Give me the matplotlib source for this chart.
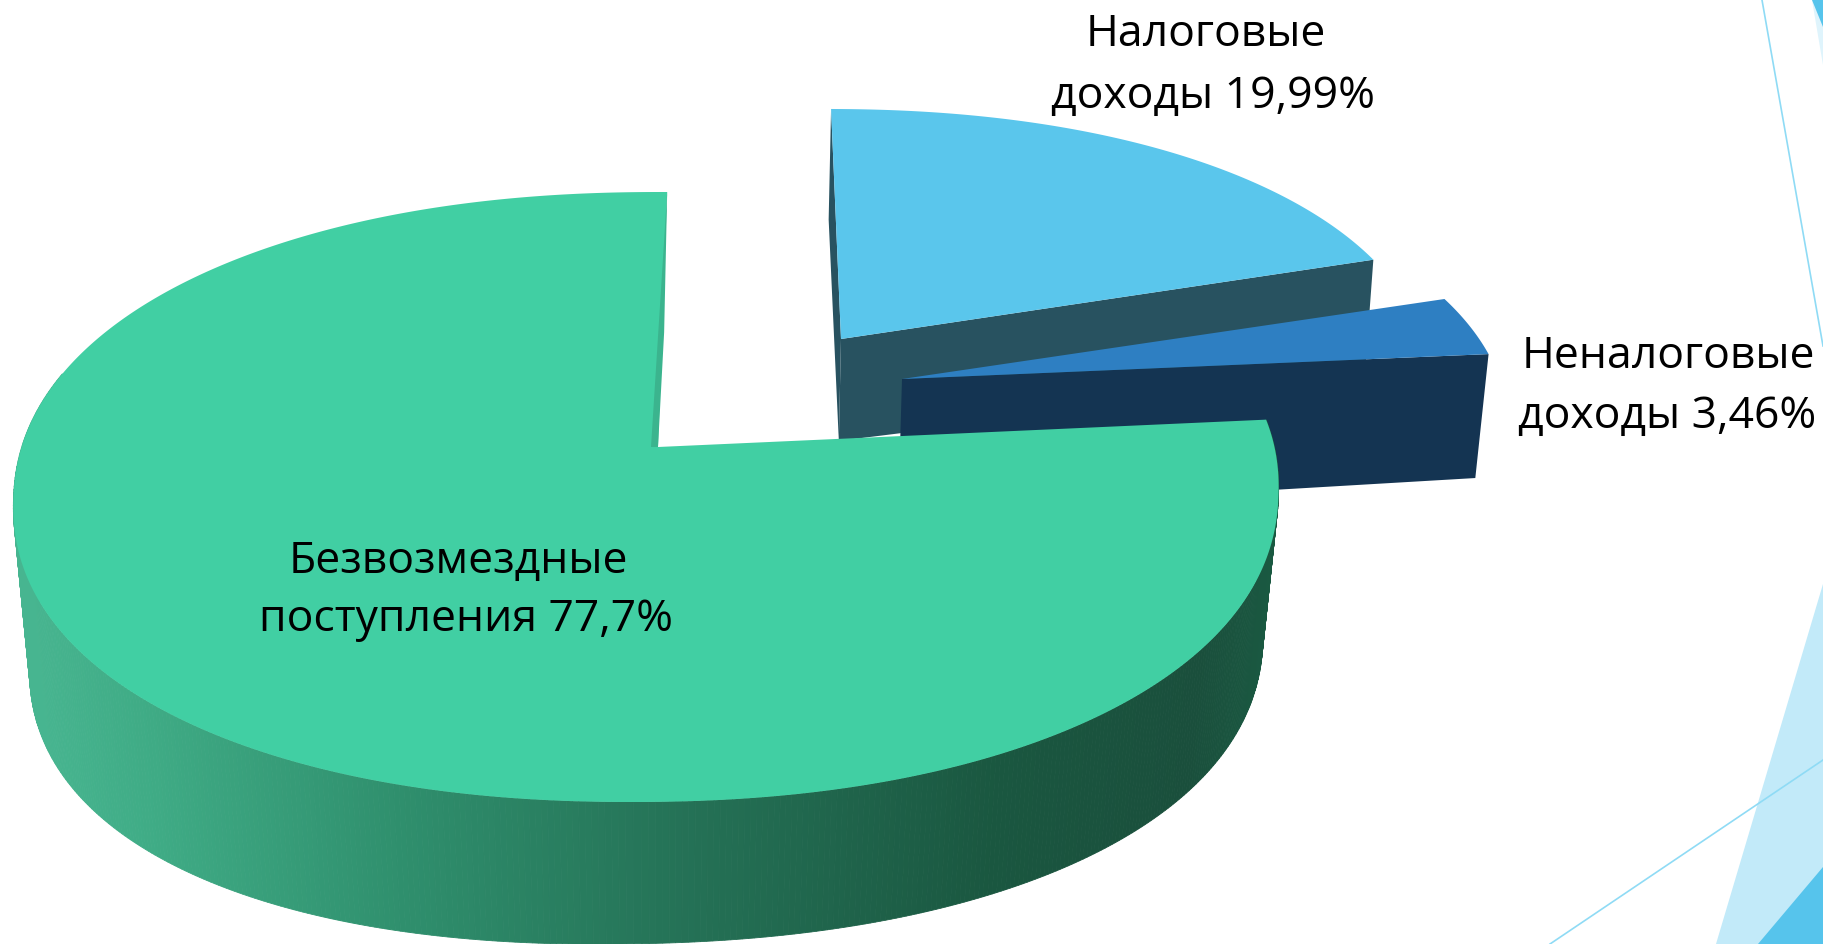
import numpy as np
import matplotlib
matplotlib.use("Agg")
import matplotlib.pyplot as plt
from matplotlib.patches import Polygon
from matplotlib.colors import to_rgb

# ---- data ----
categories = ["Безвозмездные поступления", "Налоговые доходы", "Неналоговые доходы"]
shares = [77.7, 19.99, 3.46]
label_lines = [["Безвозмездные", "поступления 77,7%"],
               ["Налоговые", "доходы 19,99%"],
               ["Неналоговые", "доходы 3,46%"]]

# ---- style ----
W, H_PX = 1823, 944
TOP_COLORS = ["#41CFA3", "#5AC6EC", "#2E7FC2"]
WALL_COLORS = ["#3BB48E", "#285260", "#143452"]
GRAD_X = [30, 150, 400, 700, 1000, 1200, 1290]
GRAD_C = ["#47b590", "#3fab85", "#2f8f6d", "#247055", "#1a5740", "#1a4f3c", "#1a5a42"]
PIE_CENTER = (646.0, 497.0)
PIE_A, PIE_B = 632.5, 305.0
PIE_SHEAR_X, PIE_SHEAR_Y = 0.035, 0.002
PIE_ROUND = 0.93
PIE_APEX = (658.0, 447.0)
PERSP_C0, PERSP_C1 = -0.7, 7.2
EXPLODE_PX = [(0, 0), (183, -108), (244, -68)]
# per-slice linear map of the exploded slice: (sx, k, sy)
SLICE_MAP = [(1.0, 0.0, 1.0), (0.945, 0.073, 0.902), (0.97, 0.12, 0.91)]
DEPTH_X = [14, 622, 1279]
DEPTH_Y = [163, 142, 144]
DEPTH0 = [None, 80, 147]
DEPTH_SLOPE = [0, -0.026, 0.0155]
TAPER = [0.025, 0.012, 0.016]
LABEL_POS = [[(458, 562), (466, 620)], [(1206, 35), (1213, 97)], [(1668, 357), (1667, 417)]]
FONT = "Open Sans"
FONTSIZE = 32

green_depth = np.polyfit(DEPTH_X, DEPTH_Y, 2)


def rim_xy(angles):
    """Pixel position of the pie rim for pie angles in degrees."""
    t = np.radians(angles)
    phi = t + np.radians(PERSP_C0 + PERSP_C1 * np.cos(t))
    c, s = np.cos(phi), np.sin(phi)
    X = PIE_A * np.sign(c) * np.abs(c) ** PIE_ROUND
    Y = -PIE_B * np.sign(s) * np.abs(s) ** PIE_ROUND
    return np.c_[PIE_CENTER[0] + X - PIE_SHEAR_X * Y, PIE_CENTER[1] + Y - PIE_SHEAR_Y * X]


def slice_xy(i, angles):
    """Apex followed by the rim for slice i."""
    c = np.array(PIE_APEX)
    rel = rim_xy(angles) - c
    sx, k, sy = SLICE_MAP[i]
    rel = np.c_[sx * rel[:, 0] + k * rel[:, 1], sy * rel[:, 1]]
    return np.vstack([c, c + rel]) + np.array(EXPLODE_PX[i])


def down(i, p):
    p = np.atleast_2d(p)
    if i == 0:
        d = np.polyval(green_depth, p[:, 0])
    else:
        d = DEPTH0[i] - DEPTH_SLOPE[i] * p[:, 0]
    return np.c_[p[:, 0] + (660 - p[:, 0]) * TAPER[i], p[:, 1] + d]


# slice angles from the values (green runs counter-clockwise from the top)
total = sum(shares)
spans = [360 * s / total for s in shares]
start = 90.0
ang_green = np.linspace(start, start + spans[0], 600)
ang_blue = np.linspace(start, start - spans[1], 160)
ang_navy = np.linspace(start - spans[1], start - spans[1] - spans[2], 40)

fig = plt.figure(figsize=(W / 100, H_PX / 100), dpi=100, facecolor="white")
ax = fig.add_axes([0, 0, 1, 1])
ax.set_xlim(0, W)
ax.set_ylim(H_PX, 0)
ax.axis("off")

# slide decoration
deco = "#C2EAF9"
ax.add_patch(Polygon([(1716, 944), (1823, 584), (1823, 944)], fc=deco, ec="none", zorder=1))
ax.add_patch(Polygon([(1758, 944), (1823, 867), (1823, 944)], fc="#56C4EC", ec="none", zorder=1.1))
ax.add_patch(Polygon([(1812, 0), (1823, 65), (1823, 0)], fc="#DFF4FC", ec="none", zorder=1))
ax.add_patch(Polygon([(1812, 0), (1823, 27), (1823, 0)], fc="#56C4EC", ec="none", zorder=1.1))
ax.plot([1762, 1823], [0, 346], color="#8FDBF5", lw=1.2, zorder=1.2)
ax.plot([1550, 1823], [944, 760], color="#8FDBF5", lw=1.2, zorder=1.2)


def poly(pts, fc, z, ec="none", lw=0):
    ax.add_patch(Polygon(pts, closed=True, fc=fc, ec=ec, lw=lw, zorder=z))


# blue slice (back)
p = slice_xy(1, ang_blue)
apex, s0, s1 = p[0], p[1], p[-1]
ab, eb = down(1, apex)[0], down(1, s1)[0]
left = (2 * s0 + ab) / 3 + np.array([-5, 0])
poly([s0, apex, ab, left], WALL_COLORS[1], 2)
poly([apex, s1, eb, ab], WALL_COLORS[1], 2)
poly(p, TOP_COLORS[1], 2.1)

# navy slice
p = slice_xy(2, ang_navy)
apex, s1 = p[0], p[-1]
poly([apex, s1, down(2, s1)[0], down(2, apex)[0]], WALL_COLORS[2], 3)
poly(p, TOP_COLORS[2], 3.1)

# green slice (front): outer wall with gradient, then top
p = slice_xy(0, ang_green)
apex, s0 = p[0], p[1]
rim = p[1:]
rim_b = down(0, rim)
xs = np.array(GRAD_X, float)
cols = np.array([to_rgb(c) for c in GRAD_C])
for k in range(len(rim) - 1):
    if ang_green[k] < 165:
        continue
    xm = 0.5 * (rim[k, 0] + rim[k + 1, 0])
    col = [np.interp(xm, xs, cols[:, j]) for j in range(3)]
    poly([rim[k], rim[k + 1], rim_b[k + 1], rim_b[k]], col, 4, ec=col, lw=0.6)
poly(p, TOP_COLORS[0], 4.1)
mid = 0.45 * s0 + 0.55 * apex
poly([s0, mid + np.array([2, 0]), apex, apex + np.array([-7, 0])], WALL_COLORS[0], 4.2)

# labels
for lines, pos in zip(label_lines, LABEL_POS):
    for txt, (x, y) in zip(lines, pos):
        ax.text(x, y, txt, ha="center", va="center", fontsize=FONTSIZE,
                family=FONT, color="black", zorder=6)

fig.savefig("out.png", dpi=100, facecolor="white")
